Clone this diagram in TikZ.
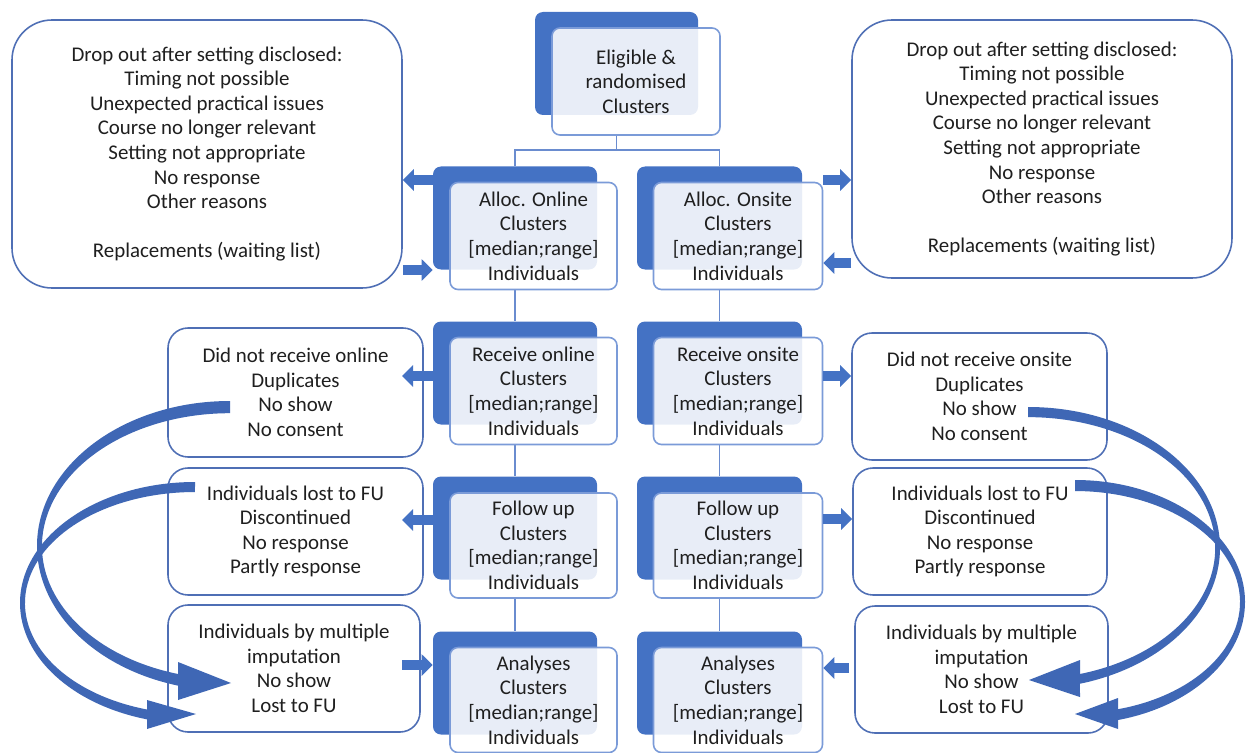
\documentclass[tikz,border=0pt]{standalone}
\usepackage{fontspec}
\setmainfont{Carlito}
\usetikzlibrary{arrows.meta}
\definecolor{dblue}{HTML}{4472C4}
\definecolor{fblue}{HTML}{7B9BD8}
\definecolor{sblue}{HTML}{4F6FB5}
\definecolor{lblue}{HTML}{6A8CCF}
\definecolor{cblue}{HTML}{3F67B5}
\definecolor{txt}{HTML}{1F1F1F}
\begin{document}
\begin{tikzpicture}[x=0.02cm,y=-0.02cm,
  font=\fontsize{11.9}{14}\selectfont, text=txt,
  sz/.style 2 args={minimum width=#1*0.02cm,minimum height=#2*0.02cm,inner sep=0pt},
  back/.style={fill=dblue, draw=none, rounded corners=0.16cm},
  front/.style={draw=fblue, line width=0.9pt, fill=white, fill opacity=0.88, text opacity=1, rounded corners=0.16cm, align=center},
  side/.style={draw=sblue, line width=0.9pt, fill=white, align=center, rounded corners=0.4cm},
  big/.style={side, rounded corners=0.8cm},
  link/.style={draw=lblue, line width=0.8pt},
  barrow/.style={draw=dblue, line width=0.2cm, -{Triangle[length=0.22cm,width=0.42cm]}},
  curv/.style={fill=cblue}]
\useasboundingbox (0,0) rectangle (1247,753);

% side boxes
\node[big, sz={390}{268}] (dropL) at (207,154) {\rule{0pt}{8pt}Drop out after setting disclosed:\\Timing not possible\\Unexpected practical issues\\Course no longer relevant\\Setting not appropriate\\No response\\Other reasons\\[14pt]Replacements (waiting list)};
\node[big, sz={380}{258}] (dropR) at (1042,149) {\rule{0pt}{8pt}Drop out after setting disclosed:\\Timing not possible\\Unexpected practical issues\\Course no longer relevant\\Setting not appropriate\\No response\\Other reasons\\[14pt]Replacements (waiting list)};
\node[side, sz={255}{129}] (L3s) at (295.5,392.5) {Did not receive online\\Duplicates\\No show\\No consent};
\node[side, sz={255}{127}] (L4s) at (295.5,531.5) {Individuals lost to FU\\Discontinued\\No response\\Partly response};
\node[side, sz={252}{127}] (L5s) at (294,668.5) {Individuals by multiple\\imputation\\No show\\Lost to FU};
\node[side, sz={255}{127}] (R3s) at (979.5,396.5) {Did not receive onsite\\Duplicates\\No show\\No consent};
\node[side, sz={254}{127}] (R4s) at (980,531.5) {Individuals lost to FU\\Discontinued\\No response\\Partly response};
\node[side, sz={253}{127}] (R5s) at (981.5,669.5) {Individuals by multiple\\imputation\\No show\\Lost to FU};

% back boxes
\node[back, sz={163}{103}] (Td) at (616.5,63.5) {};
\node[back, sz={164}{103}] (A1d) at (515,218) {};
\node[back, sz={165}{103}] (A2d) at (719.5,218) {};
\node[back, sz={164}{103}] (S1d) at (515,373) {};
\node[back, sz={165}{103}] (S2d) at (719.5,373) {};
\node[back, sz={164}{103}] (F1d) at (515,528) {};
\node[back, sz={165}{103}] (F2d) at (719.5,528) {};
\node[back, sz={164}{103}] (N1d) at (515,683) {};
\node[back, sz={165}{103}] (N2d) at (719.5,683) {};

% links
\draw[link] (Td |- 0,135) -- (Td |- 0,150) -| (A1d.north);
\draw[link] (Td |- 0,150) -| (A2d.north);
\draw[link] (A1d |- 0,290) -- (S1d.north);
\draw[link] (A2d |- 0,290) -- (S2d.north);
\draw[link] (S1d |- 0,445) -- (F1d.north);
\draw[link] (S2d |- 0,445) -- (F2d.north);
\draw[link] (F1d |- 0,598) -- (N1d.north);
\draw[link] (F2d |- 0,598) -- (N2d.north);

% front boxes
\node[front, sz={168}{107}] (Tf) at (636,81.5) {Eligible \&\\randomised\\Clusters};
\node[front, sz={167}{107}] (A1f) at (533.5,236) {Alloc. Online\\Clusters\\{[median;range]}\\Individuals};
\node[front, sz={169}{107}] (A2f) at (738,236) {Alloc. Onsite\\Clusters\\{[median;range]}\\Individuals};
\node[front, sz={167}{107}] (S1f) at (533.5,391) {Receive online\\Clusters\\{[median;range]}\\Individuals};
\node[front, sz={169}{107}] (S2f) at (738,391) {Receive onsite\\Clusters\\{[median;range]}\\Individuals};
\node[front, sz={167}{105}] (F1f) at (533.5,545.5) {Follow up\\Clusters\\{[median;range]}\\Individuals};
\node[front, sz={169}{105}] (F2f) at (738,545.5) {Follow up\\Clusters\\{[median;range]}\\Individuals};
\node[front, sz={167}{105}] (N1f) at (533.5,700) {Analyses\\Clusters\\{[median;range]}\\Individuals};
\node[front, sz={169}{105}] (N2f) at (738,700) {Analyses\\Clusters\\{[median;range]}\\Individuals};

% block arrows
\draw[barrow] (A1d.west |- 0,180) -- (dropL.east |- 0,180);
\draw[barrow] (dropL.east |- 0,270) -- (A1d.west |- 0,270);
\draw[barrow] (A2f.east |- 0,180) -- (dropR.west |- 0,180);
\draw[barrow] (dropR.west |- 0,263) -- (A2f.east |- 0,263);
\draw[barrow] (S1d.west |- 0,376) -- (402,376);
\draw[barrow] (S2f.east |- 0,376) -- (R3s.west |- 0,376);
\draw[barrow] (F1d.west |- 0,520) -- (402,520);
\draw[barrow] (F2f.east |- 0,519) -- (R4s.west |- 0,519);
\draw[barrow] (402,665) -- (N1d.west |- 0,665);
\draw[barrow] (849,668) -- (N2f.east |- 0,668);

% curved arrows
\fill[curv] (230,401) arc[start angle=270, end angle=105.6, x radius=193, y radius=145]
  -- (178,700) -- (231,683) -- (178,662) -- (178,674)
  arc[start angle=106.06, end angle=270, x radius=188, y radius=133] -- cycle;
\fill[curv] (195,482) arc[start angle=270, end angle=105.92, x radius=175, y radius=121]
  -- (147,729) -- (196,714) -- (147,700) -- (147,709.5)
  arc[start angle=106.40, end angle=270, x radius=170, y radius=111] -- cycle;
\fill[curv] (1028,407) arc[start angle=-90, end angle=74.3, x radius=192, y radius=141]
  -- (1080,697) -- (1029,680) -- (1080,660) -- (1080,674)
  arc[start angle=73.9, end angle=-90, x radius=187, y radius=131] -- cycle;
\fill[curv] (1075,480) arc[start angle=-90, end angle=75.35, x radius=170, y radius=122]
  -- (1118,729) -- (1075,714) -- (1118,698) -- (1118,709.2)
  arc[start angle=74.89, end angle=-90, x radius=165, y radius=111] -- cycle;
\end{tikzpicture}
\end{document}
